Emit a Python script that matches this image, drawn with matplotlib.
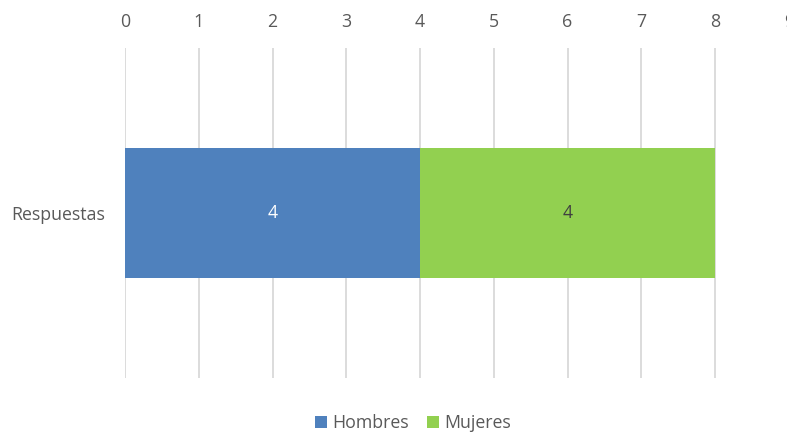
import matplotlib
matplotlib.use("Agg")
import matplotlib.pyplot as plt

categories = ["Respuestas"]
series_names = ["Hombres", "Mujeres"]
hombres = [4]
mujeres = [4]
x_ticks = list(range(0, 10))

plt.rcParams['font.family'] = ['Open Sans', 'DejaVu Sans']

W, H = 787, 436
fig = plt.figure(figsize=(W / 100, H / 100), dpi=100)
left = 125 / W
right = 788.75 / W
top = 1 - 48 / H
bottom = 1 - 378 / H
ax = fig.add_axes([left, bottom, right - left, top - bottom])

text_color = "#595959"
colors = ["#4F81BD", "#92D050"]
label_colors = ["white", "#404040"]
fs = 12.8

bar_h = 130 / 330
y = list(range(len(categories)))
b1 = ax.barh(y, hombres, height=bar_h, color=colors[0], label=series_names[0], zorder=3)
b2 = ax.barh(y, mujeres, left=hombres, height=bar_h, color=colors[1], label=series_names[1], zorder=3)
ax.bar_label(b1, labels=[str(v) for v in hombres], label_type="center", color=label_colors[0], fontsize=fs)
ax.bar_label(b2, labels=[str(v) for v in mujeres], label_type="center", color=label_colors[1], fontsize=fs)

ax.set_xlim(0, 9)
ax.set_ylim(-0.5, 0.5)
ax.set_xticks(x_ticks)
ax.xaxis.tick_top()
ax.tick_params(axis="x", length=0, pad=12, labelsize=fs, labelcolor=text_color)
ax.set_yticks(y)
ax.set_yticklabels(categories)
ax.tick_params(axis="y", length=0, pad=14, labelsize=fs, labelcolor=text_color)
ax.grid(axis="x", color="#D9D9D9", linewidth=1.3, zorder=0)
for s in ax.spines.values():
    s.set_visible(False)

leg = fig.legend(handles=[b1, b2], labels=series_names, loc="center",
                 bbox_to_anchor=(413 / W, 1 - 423 / H), ncol=2, frameon=False,
                 fontsize=fs, handlelength=0.7, handleheight=0.7, handletextpad=0.3,
                 columnspacing=1.0, labelcolor=text_color)

fig.savefig("out.png", dpi=100)
